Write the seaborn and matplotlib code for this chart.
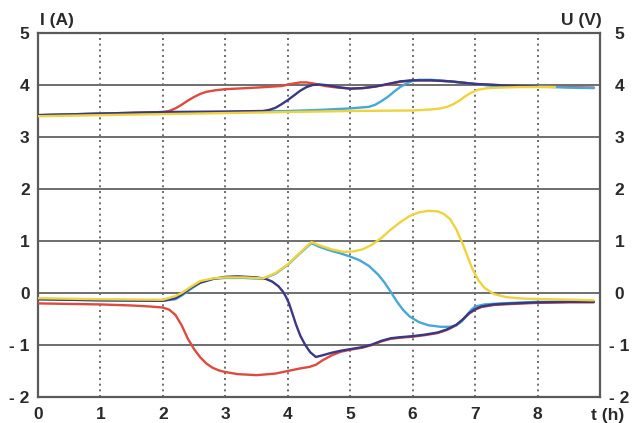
import matplotlib
matplotlib.use("Agg")
import matplotlib.pyplot as plt
import seaborn as sns

# ---------------- data ----------------
x_ticks = [0, 1, 2, 3, 4, 5, 6, 7, 8]
x_tick_labels = ["0", "1", "2", "3", "4", "5", "6", "7", "8"]
y_ticks = [-2, -1, 0, 1, 2, 3, 4, 5]
y_tick_labels = ["- 2", "- 1", "0", "1", "2", "3", "4", "5"]

# currents I (A)
t_i_red = [0, 1, 1.5, 1.8, 2.0, 2.1, 2.2, 2.3, 2.4, 2.5, 2.6, 2.7, 2.8, 2.9, 3.0, 3.2, 3.5, 3.8, 4.0,
           4.2, 4.35, 4.45, 4.55, 4.7, 4.85, 5.0, 5.2, 5.35, 5.5, 5.65, 5.8, 6.0, 6.2, 6.4, 6.55, 6.7,
           6.8, 6.9, 7.0, 7.1, 7.3, 7.6, 8.0, 8.5, 8.9]
i_red = [-0.2, -0.22, -0.24, -0.26, -0.28, -0.32, -0.42, -0.62, -0.88, -1.08, -1.24, -1.36, -1.44,
         -1.49, -1.52, -1.56, -1.58, -1.55, -1.5, -1.45, -1.42, -1.38, -1.3, -1.2, -1.13, -1.09, -1.05,
         -1.0, -0.93, -0.88, -0.86, -0.84, -0.81, -0.77, -0.71, -0.62, -0.52, -0.4, -0.32, -0.27,
         -0.23, -0.21, -0.19, -0.18, -0.18]

t_i_navy = [0, 1, 2, 2.2, 2.3, 2.45, 2.6, 2.8, 3.0, 3.2, 3.5, 3.65, 3.75, 3.85, 3.92, 3.97, 4.02, 4.07,
            4.13, 4.2, 4.28, 4.36, 4.45, 4.55, 4.7, 4.85, 5.0, 5.2, 5.35, 5.5, 5.65, 5.8, 6.0, 6.2,
            6.4, 6.55, 6.7, 6.8, 6.9, 7.0, 7.1, 7.3, 7.6, 8.0, 8.5, 8.9]
i_navy = [-0.12, -0.14, -0.15, -0.1, -0.03, 0.1, 0.2, 0.27, 0.31, 0.32, 0.3, 0.27, 0.22, 0.13, 0.03,
          -0.07, -0.2, -0.38, -0.6, -0.82, -1.0, -1.14, -1.23, -1.2, -1.15, -1.11, -1.08, -1.04,
          -0.99, -0.92, -0.87, -0.85, -0.83, -0.8, -0.76, -0.7, -0.61, -0.51, -0.39, -0.31, -0.26,
          -0.22, -0.2, -0.18, -0.17, -0.17]

t_i_blue = [0, 1, 2, 2.2, 2.3, 2.45, 2.6, 2.8, 3.0, 3.3, 3.6, 3.8, 4.0, 4.2, 4.38, 4.5, 4.7, 4.85,
            5.0, 5.15, 5.3, 5.45, 5.55, 5.65, 5.75, 5.85, 5.95, 6.1, 6.25, 6.45, 6.6, 6.7, 6.78,
            6.86, 6.94, 7.0, 7.15, 7.4, 8.0, 8.5, 8.9]
i_blue = [-0.12, -0.14, -0.15, -0.12, -0.05, 0.08, 0.2, 0.27, 0.29, 0.29, 0.27, 0.37, 0.54, 0.77,
          0.96, 0.89, 0.81, 0.76, 0.7, 0.63, 0.52, 0.35, 0.2, 0.02, -0.17, -0.33, -0.45, -0.56,
          -0.62, -0.65, -0.65, -0.62, -0.55, -0.44, -0.32, -0.26, -0.22, -0.2, -0.17, -0.17, -0.17]

t_i_yellow = [0, 1, 2, 2.2, 2.3, 2.45, 2.6, 2.8, 3.0, 3.3, 3.6, 3.8, 4.0, 4.2, 4.38, 4.5, 4.7, 4.9,
              5.05, 5.2, 5.35, 5.5, 5.65, 5.8, 5.95, 6.1, 6.25, 6.4, 6.5, 6.6, 6.7, 6.8, 6.88,
              6.95, 7.05, 7.15, 7.3, 7.5, 7.8, 8.2, 8.9]
i_yellow = [-0.1, -0.12, -0.13, -0.06, 0.0, 0.12, 0.23, 0.28, 0.3, 0.3, 0.28, 0.38, 0.55, 0.78, 0.98,
            0.92, 0.84, 0.79, 0.8, 0.84, 0.93, 1.06, 1.22, 1.36, 1.48, 1.55, 1.58, 1.57, 1.52, 1.42,
            1.22, 0.95, 0.7, 0.48, 0.25, 0.1, -0.02, -0.08, -0.11, -0.12, -0.14]

# voltages U (V)
t_u_red = [0, 1, 2.0, 2.1, 2.2, 2.3, 2.4, 2.5, 2.6, 2.7, 2.85, 3.0, 3.5, 3.9, 4.05, 4.2, 4.3, 4.45,
           4.6, 4.8, 5.0, 5.2, 5.4, 5.6, 5.8, 6.0, 6.3, 6.6, 7.0, 7.5, 8.0, 8.5, 8.9]
u_red = [3.42, 3.45, 3.48, 3.5, 3.55, 3.62, 3.7, 3.77, 3.83, 3.87, 3.9, 3.92, 3.95, 3.98, 4.02, 4.05,
         4.05, 4.02, 3.98, 3.95, 3.93, 3.94, 3.97, 4.01, 4.06, 4.09, 4.09, 4.07, 4.02, 3.99, 3.97,
         3.96, 3.95]

t_u_navy = [0, 1, 2, 3, 3.6, 3.7, 3.8, 3.9, 4.0, 4.1, 4.2, 4.3, 4.4, 4.5, 4.6, 4.8, 5.0, 5.2, 5.4,
            5.6, 5.8, 6.0, 6.3, 6.6, 7.0, 7.5, 8.0]
u_navy = [3.42, 3.45, 3.48, 3.49, 3.5, 3.52, 3.56, 3.63, 3.71, 3.8, 3.89, 3.96, 4.0, 4.01, 4.0, 3.96,
          3.93, 3.94, 3.97, 4.02, 4.07, 4.09, 4.09, 4.07, 4.02, 3.99, 3.97]

t_u_blue = [0, 1, 2, 3, 4, 4.5, 5.0, 5.3, 5.4, 5.5, 5.6, 5.7, 5.8, 5.9, 6.0, 6.1, 6.3, 6.6, 7.0, 7.3,
            8.0, 8.5, 8.9]
u_blue = [3.42, 3.45, 3.47, 3.48, 3.5, 3.52, 3.55, 3.58, 3.62, 3.69, 3.77, 3.87, 3.96, 4.03, 4.08,
          4.1, 4.1, 4.07, 4.02, 3.98, 3.97, 3.95, 3.94]

t_u_yellow = [0, 1, 2, 3, 4, 5, 6, 6.3, 6.45, 6.55, 6.65, 6.75, 6.85, 6.95, 7.05, 7.2, 7.4, 7.7, 8.0,
              8.28]
u_yellow = [3.40, 3.42, 3.44, 3.46, 3.48, 3.5, 3.51, 3.53, 3.55, 3.58, 3.63, 3.7, 3.79, 3.86, 3.91,
            3.94, 3.95, 3.96, 3.96, 3.96]

RED = "#dd4a3e"
NAVY = "#3a3884"
BLUE = "#45a8d6"
YELLOW = "#eed33c"

# ---------------- style ----------------
sns.set_theme(style="white")
plt.rcParams["font.family"] = ["Liberation Sans", "DejaVu Sans"]
plt.rcParams["font.weight"] = "bold"

fig = plt.figure(figsize=(6.36, 4.23), dpi=100)
fig.patch.set_facecolor("white")
ax = fig.add_axes([38 / 636, 1 - 397 / 423, (600 - 38) / 636, (397 - 33) / 423])
ax.set_facecolor("white")

series = [
    (t_u_red, u_red, RED), (t_i_red, i_red, RED),
    (t_u_blue, u_blue, BLUE), (t_i_blue, i_blue, BLUE),
    (t_u_navy, u_navy, NAVY), (t_i_navy, i_navy, NAVY),
    (t_u_yellow, u_yellow, YELLOW), (t_i_yellow, i_yellow, YELLOW),
]
for tt, vv, col in series:
    sns.lineplot(x=tt, y=vv, color=col, linewidth=1.7, ax=ax, estimator=None, sort=False, zorder=3)

ax.set_xlim(0, 9)
ax.set_ylim(-2, 5)
ax.set_xticks(x_ticks)
ax.set_xticklabels(x_tick_labels)
ax.set_yticks(y_ticks)
ax.set_yticklabels(y_tick_labels)
ax.tick_params(axis="both", length=0, labelsize=12.5, colors="#2a2a2a")
ax.tick_params(axis="y", pad=6)
ax.tick_params(axis="x", pad=7)
for lab in ax.get_xticklabels() + ax.get_yticklabels():
    lab.set_fontweight("bold")

ax.xaxis.grid(True, linestyle=(0, (1.2, 2.2)), color="#555555", linewidth=1.2)
ax.yaxis.grid(True, linestyle="-", color="#6e6e6e", linewidth=1.4)
ax.set_axisbelow(True)
for sp in ax.spines.values():
    sp.set_visible(True)
    sp.set_color("#5a5a5a")
    sp.set_linewidth(1.6)

ax2 = ax.twinx()
ax2.set_ylim(-2, 5)
ax2.set_yticks(y_ticks)
ax2.set_yticklabels(y_tick_labels)
ax2.tick_params(axis="y", length=0, labelsize=12.5, colors="#2a2a2a", pad=14)
for lab in ax2.get_yticklabels():
    lab.set_fontweight("bold")
    lab.set_horizontalalignment("center")
for sp in ax2.spines.values():
    sp.set_visible(False)
ax2.grid(False)

ax.set_xlabel("")
ax.set_ylabel("")

fig.text(40 / 636, 1 - 20 / 423, "I (A)", fontsize=12.5, fontweight="bold", color="#2a2a2a",
         ha="left", va="center")
fig.text(602 / 636, 1 - 20 / 423, "U (V)", fontsize=12.5, fontweight="bold", color="#2a2a2a",
         ha="right", va="center")
fig.text(608 / 636, 1 - 415 / 423, "t (h)", fontsize=12.5, fontweight="bold", color="#2a2a2a",
         ha="center", va="center")

fig.savefig("out.png", dpi=100, facecolor="white")
